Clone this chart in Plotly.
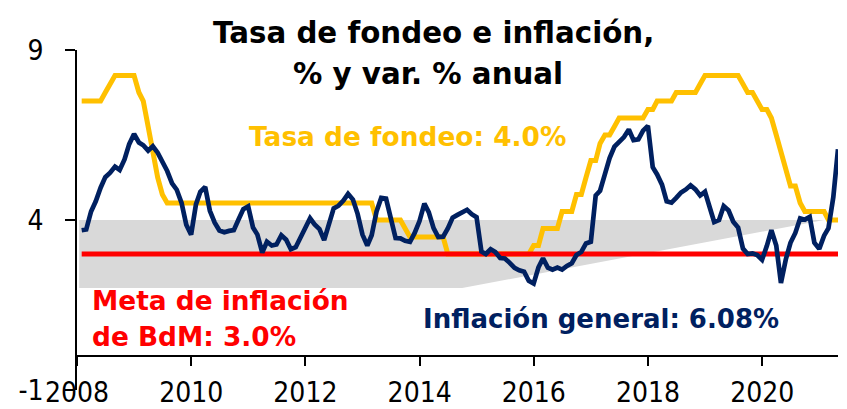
import pandas as pd
import plotly.graph_objects as go

# ---------------- data ----------------
months = pd.date_range("2008-01-01", periods=160, freq="MS") + pd.offsets.MonthEnd(0)

tasa_fondeo = [
    7.5, 7.5, 7.5, 7.5, 7.5, 7.75, 8.0, 8.25, 8.25, 8.25, 8.25, 8.25,          # 2008
    7.75, 7.5, 6.75, 6.0, 5.25, 4.75, 4.5, 4.5, 4.5, 4.5, 4.5, 4.5,            # 2009
    4.5, 4.5, 4.5, 4.5, 4.5, 4.5, 4.5, 4.5, 4.5, 4.5, 4.5, 4.5,                # 2010
    4.5, 4.5, 4.5, 4.5, 4.5, 4.5, 4.5, 4.5, 4.5, 4.5, 4.5, 4.5,                # 2011
    4.5, 4.5, 4.5, 4.5, 4.5, 4.5, 4.5, 4.5, 4.5, 4.5, 4.5, 4.5,                # 2012
    4.5, 4.5, 4.0, 4.0, 4.0, 4.0, 4.0, 4.0, 3.75, 3.5, 3.5, 3.5,               # 2013
    3.5, 3.5, 3.5, 3.5, 3.5, 3.0, 3.0, 3.0, 3.0, 3.0, 3.0, 3.0,                # 2014
    3.0, 3.0, 3.0, 3.0, 3.0, 3.0, 3.0, 3.0, 3.0, 3.0, 3.0, 3.25,               # 2015
    3.25, 3.75, 3.75, 3.75, 3.75, 4.25, 4.25, 4.25, 4.75, 4.75, 5.25, 5.75,    # 2016
    5.75, 6.25, 6.5, 6.5, 6.75, 7.0, 7.0, 7.0, 7.0, 7.0, 7.0, 7.25,            # 2017
    7.25, 7.5, 7.5, 7.5, 7.5, 7.75, 7.75, 7.75, 7.75, 7.75, 8.0, 8.25,         # 2018
    8.25, 8.25, 8.25, 8.25, 8.25, 8.25, 8.25, 8.0, 7.75, 7.75, 7.5, 7.25,      # 2019
    7.25, 7.0, 6.5, 6.0, 5.5, 5.0, 5.0, 4.5, 4.25, 4.25, 4.25, 4.25,           # 2020
    4.25, 4.0, 4.0, 4.0,                                                       # 2021
]

inflacion_general = [
    3.70, 3.72, 4.25, 4.55, 4.95, 5.26, 5.39, 5.57, 5.47, 5.78, 6.23, 6.53,    # 2008
    6.28, 6.20, 6.04, 6.17, 5.98, 5.74, 5.44, 5.08, 4.89, 4.50, 3.86, 3.57,    # 2009
    4.46, 4.83, 4.97, 4.27, 3.92, 3.69, 3.64, 3.68, 3.70, 4.02, 4.32, 4.40,    # 2010
    3.78, 3.57, 3.04, 3.36, 3.25, 3.28, 3.55, 3.42, 3.14, 3.20, 3.48, 3.82,    # 2011
    4.05, 3.87, 3.73, 3.41, 3.85, 4.34, 4.42, 4.57, 4.77, 4.60, 4.18, 3.57,    # 2012
    3.25, 3.55, 4.25, 4.65, 4.63, 4.09, 3.47, 3.46, 3.39, 3.36, 3.62, 3.97,    # 2013
    4.48, 4.23, 3.76, 3.50, 3.51, 3.75, 4.07, 4.15, 4.22, 4.30, 4.17, 4.08,    # 2014
    3.07, 3.00, 3.14, 3.06, 2.88, 2.87, 2.74, 2.59, 2.52, 2.48, 2.21, 2.13,    # 2015
    2.61, 2.87, 2.60, 2.54, 2.60, 2.54, 2.65, 2.73, 2.97, 3.06, 3.31, 3.36,    # 2016
    4.72, 4.86, 5.35, 5.82, 6.16, 6.31, 6.44, 6.66, 6.35, 6.37, 6.63, 6.77,    # 2017
    5.55, 5.34, 5.04, 4.55, 4.51, 4.65, 4.81, 4.90, 5.02, 4.90, 4.72, 4.83,    # 2018
    4.37, 3.94, 4.00, 4.41, 4.28, 3.95, 3.78, 3.16, 3.00, 3.02, 2.97, 2.83,    # 2019
    3.24, 3.70, 3.25, 2.15, 2.84, 3.33, 3.62, 4.05, 4.01, 4.09, 3.33, 3.15,    # 2020
    3.54, 3.76, 4.67, 6.08,                                                    # 2021
]

meta_inflacion = [3.0] * len(months)

band_dates = ["2008-01-15", "2014-09-30", "2021-01-31", "2021-04-30"]
band_low = [2.0, 2.0, 4.0, 4.0]
band_high = [4.0, 4.0, 4.0, 4.0]

y_tickvals = [-1, 4, 9]
y_ticktext = ["-1", "4", "9"]

# ---------------- figure ----------------
# the page body has a default 8px margin, so the figure is drawn 8px in
OFF = 8
W, H = 847 - OFF, 409 - OFF
ML, MR, MT, MB = 77 - OFF, 9, 50 - OFF, 19
PW, PH = W - ML - MR, H - MT - MB

BOLD = "DejaVu Sans"
REG = "DejaVu Sans Condensed, Noto Sans, DejaVu Sans"

fig = go.Figure()
fig.add_trace(go.Scatter(x=band_dates, y=band_low, mode="lines",
                         line=dict(width=0, color="#D9D9D9"),
                         hoverinfo="skip", showlegend=False))
fig.add_trace(go.Scatter(x=band_dates, y=band_high, mode="lines",
                         line=dict(width=0, color="#D9D9D9"),
                         fill="tonexty", fillcolor="#D9D9D9",
                         hoverinfo="skip", showlegend=False))
fig.add_trace(go.Scatter(x=months, y=tasa_fondeo, mode="lines",
                         line=dict(color="#FFC000", width=5),
                         name="Tasa de fondeo", showlegend=False))
fig.add_trace(go.Scatter(x=months, y=meta_inflacion, mode="lines",
                         line=dict(color="#FF0000", width=5),
                         name="Meta", showlegend=False))
fig.add_trace(go.Scatter(x=months, y=inflacion_general, mode="lines",
                         line=dict(color="#002060", width=4.7),
                         name="Inflación general", showlegend=False))


def px(x):
    # x given in page pixels
    return (x - OFF - ML) / PW


def py(y):
    # y given in page pixels
    return (H - MB - (y - OFF)) / PH


def note(text, x, y, color, size, xanchor="center"):
    fig.add_annotation(text=text, xref="paper", yref="paper",
                       x=px(x), y=py(y), xanchor=xanchor, yanchor="middle",
                       showarrow=False,
                       font=dict(family=BOLD, size=size, color=color, weight="bold"))


note("Tasa de fondeo e inflación,", 433.5, 33, "black", 29.3)
note("% y var. % anual", 427.5, 74, "black", 29.3)
note("Tasa de fondeo: 4.0%", 407.5, 136, "#FFC000", 26.4)
note("Meta de inflación", 90, 300, "#FF0000", 26.4, "left")
note("de BdM: 3.0%", 90, 336, "#FF0000", 26.4, "left")
note("Inflación general: 6.08%", 600.5, 319, "#002060", 26)

fig.update_layout(
    width=W, height=H,
    margin=dict(l=ML, r=MR, t=MT, b=MB, pad=0, autoexpand=False),
    paper_bgcolor="white", plot_bgcolor="white",
    showlegend=False,
    xaxis=dict(type="date", range=["2008-01-01", "2021-04-30"],
               tick0="2008-01-01", dtick="M24", tickformat="%Y",
               anchor="free", position=0.1, automargin=False,
               showline=True, linecolor="black", linewidth=1.5,
               ticks="outside", ticklen=9, tickwidth=1.5, tickcolor="black",
               showgrid=False, zeroline=False, ticklabelstandoff=3,
               tickfont=dict(family=REG, size=28, color="black")),
    yaxis=dict(range=[-1, 9], tickvals=y_tickvals, ticktext=y_ticktext,
               automargin=False,
               showline=True, linecolor="black", linewidth=1.5,
               ticks="outside", ticklen=10, tickwidth=1.5, tickcolor="black",
               showgrid=False, zeroline=False, ticklabelstandoff=16,
               tickfont=dict(family=REG, size=28, color="black")),
)

fig.write_html("out.html")
